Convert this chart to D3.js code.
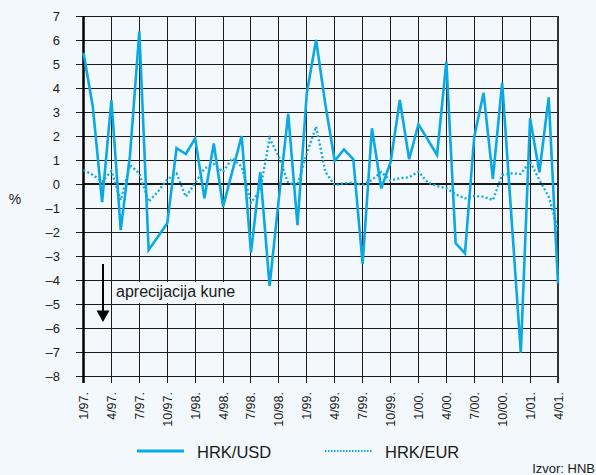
<!DOCTYPE html>
<html>
<head>
<meta charset="utf-8">
<script src="https://cdn.jsdelivr.net/npm/d3@7"></script>
<style>
  body { margin: 0; background: #f3f8fc; }
  svg { display: block; font-family: "Liberation Sans", Arial, sans-serif; }
  .grid line { stroke: #1c1c1c; stroke-width: 1; shape-rendering: crispEdges; }
</style>
</head>
<body>
<script>
// monthly change in exchange rate, %, from 1/97. to 4/01.
var hrkUsd = [5.47, 3.22, -0.76, 3.5, -1.92, 1.2, 6.35, -2.75, -2.2, -1.64, 1.49, 1.25,
    1.9, -0.6, 1.69, -0.94, 0.53, 2.0, -2.86, 0.49, -4.25, -0.6, 2.92, -1.71,
    3.78, 6.0, 3.3, 0.97, 1.44, 1.03, -3.33, 2.32, -0.18, 0.9, 3.5, 1.03,
    2.49, 1.85, 1.21, 5.1, -2.47, -2.89, 1.97, 3.8, 0.21, 4.22, -1.4, -7.03,
    2.74, 0.49, 3.61, -4.14];
var hrkEur = [0.58, 0.38, 0.1, 0.54, -0.67, 0.79, 0.44, -0.74, -0.32, 0.19, 0.44, -0.53,
    0.03, 0.65, 0.83, 0.51, 1.07, 0.72, -0.78, -0.25, 1.9, 1.14, 0.03, -0.04,
    1.28, 2.39, 0.5, -0.05, 0.03, 0.06, -0.04, 0.17, 0.5, 0.14, 0.24, 0.28,
    0.51, 0.06, -0.08, -0.18, -0.43, -0.6, -0.5, -0.53, -0.67, 0.375, 0.44, 0.42,
    0.93, 0.17, -0.53, -1.9];
var tickLabels = ["1/97.", "4/97.", "7/97.", "10/97.", "1/98.", "4/98.", "7/98.", "10/98.",
    "1/99.", "4/99.", "7/99.", "10/99.", "1/00.", "4/00.", "7/00.", "10/00.", "1/01.", "4/01."];
var yTicks = d3.range(-8, 8);
var seriesNames = ["HRK/USD", "HRK/EUR"];

//month categories, e.g. "3/98."
var months = hrkUsd.map(function(d, i){
    var m = i % 12 + 1, y = 97 + Math.floor(i / 12);
    return m + "/" + String(y % 100).padStart(2, "0") + ".";
});

var w = 596, h = 475;
var blue = "#0aa9e3", ink = "#1a1a1a";

var svg = d3.select("body").append("svg")
    .attr("width", w)
    .attr("height", h);

var x = d3.scalePoint()
    .domain(months)
    .range([83.5, 558]);

var y = d3.scaleLinear()
    .domain([-8, 7])
    .range([376, 16]);

//horizontal grid (with small ticks to the left)
var grid = svg.append("g").attr("class", "grid");
grid.selectAll(".hline")
    .data(yTicks)
    .enter()
    .append("line")
    .attr("x1", 76)
    .attr("x2", 558)
    .attr("y1", function(d){ return Math.round(y(d)) + 0.5; })
    .attr("y2", function(d){ return Math.round(y(d)) + 0.5; });

//vertical grid every quarter, running below the -8 line as ticks
grid.selectAll(".vline")
    .data(tickLabels)
    .enter()
    .append("line")
    .attr("x1", function(d){ return x(d); })
    .attr("x2", function(d){ return x(d); })
    .attr("y1", y(7))
    .attr("y2", 383);

//zero line, left axis and right border
svg.append("line")
    .attr("x1", 83).attr("x2", 558)
    .attr("y1", y(0)).attr("y2", y(0))
    .style("stroke", ink).style("stroke-width", 2.2);
svg.append("line")
    .attr("x1", 83.5).attr("x2", 83.5)
    .attr("y1", y(7)).attr("y2", 383)
    .style("stroke", "#000").style("stroke-width", 2.5);
svg.append("line")
    .attr("x1", 558).attr("x2", 558)
    .attr("y1", y(7)).attr("y2", 383)
    .style("stroke", "#333").style("stroke-width", 2);

//y labels
svg.selectAll(".ylab")
    .data(yTicks)
    .enter()
    .append("text")
    .attr("x", 60)
    .attr("y", function(d){ return y(d) + 4.5; })
    .attr("text-anchor", "end")
    .style("font-size", "13px")
    .style("fill", ink)
    .text(function(d){ return d < 0 ? "\u2013" + Math.abs(d) : d; });

svg.append("text")
    .attr("x", 15).attr("y", 204)
    .attr("text-anchor", "middle")
    .style("font-size", "14px")
    .style("fill", ink)
    .text("%");

//x labels, rotated
svg.selectAll(".xlab")
    .data(tickLabels)
    .enter()
    .append("text")
    .attr("transform", function(d){ return "translate(" + (x(d) + 4.5) + ",392) rotate(-90)"; })
    .attr("text-anchor", "end")
    .style("font-size", "12.5px")
    .style("fill", ink)
    .text(function(d){ return d; });

//note with arrow
svg.append("rect")
    .attr("x", 113).attr("y", 282)
    .attr("width", 132).attr("height", 21)
    .style("fill", "#f3f8fc");
svg.append("text")
    .attr("x", 116).attr("y", 297)
    .style("font-size", "16px")
    .style("fill", ink)
    .text("aprecijacija kune");
svg.append("line")
    .attr("x1", 103).attr("x2", 103)
    .attr("y1", 264).attr("y2", 312)
    .style("stroke", "#000").style("stroke-width", 2);
svg.append("path")
    .attr("d", "M96.5,310.5 L109.5,310.5 L103,322 Z")
    .style("fill", "#000");

//series lines
var line = d3.line()
    .x(function(d, i){ return x(months[i]); })
    .y(function(d){ return y(d); });

svg.append("path")
    .datum(hrkEur)
    .attr("d", line)
    .style("fill", "none")
    .style("stroke", blue)
    .style("stroke-width", 2.3)
    .style("stroke-dasharray", "2,2.3");

svg.append("path")
    .datum(hrkUsd)
    .attr("d", line)
    .style("fill", "none")
    .style("stroke", blue)
    .style("stroke-width", 2.6)
    .style("stroke-linejoin", "miter");

//legend
var legend = svg.selectAll(".legend")
    .data(seriesNames)
    .enter()
    .append("g")
    .attr("transform", function(d, i){ return "translate(" + (137 + i * 188) + ",451)"; });
legend.append("line")
    .attr("x1", 0).attr("x2", 47)
    .style("stroke", blue)
    .style("stroke-width", function(d, i){ return i ? 2 : 3; })
    .style("stroke-dasharray", function(d, i){ return i ? "1.5,1.5" : null; });
legend.append("text")
    .attr("x", function(d, i){ return i ? 60 : 60; })
    .attr("y", 7)
    .style("font-size", "16.5px")
    .style("fill", ink)
    .text(function(d){ return d; });

svg.append("text")
    .attr("x", 595).attr("y", 473)
    .attr("text-anchor", "end")
    .style("font-size", "13px")
    .style("fill", ink)
    .text("Izvor: HNB");
</script>
</body>
</html>
